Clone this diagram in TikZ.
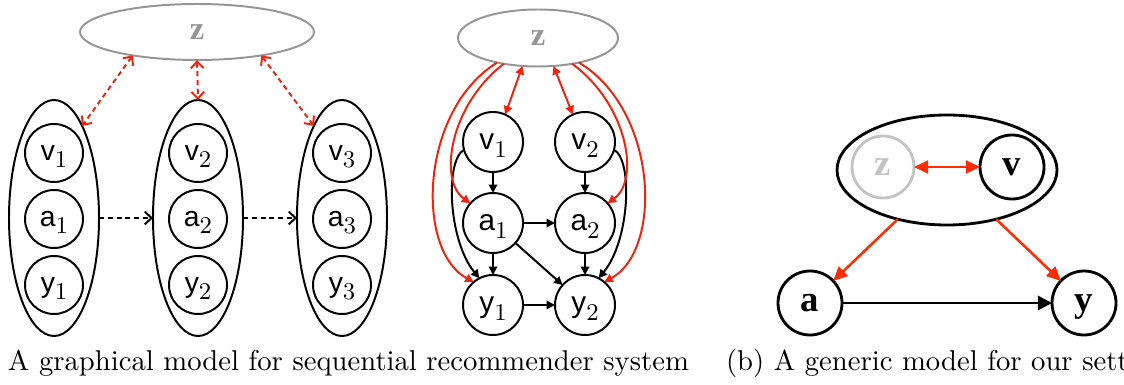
\documentclass[tikz,border=0pt]{standalone}
\usepackage{fontspec}
\usetikzlibrary{shapes.geometric,arrows.meta}
\newfontfamily\helv{Liberation Sans}
\newfontfamily\tms{Liberation Serif}
\definecolor{myred}{RGB}{240,35,15}
\definecolor{myredB}{RGB}{255,45,5}
\definecolor{zgray}{RGB}{150,150,150}
\definecolor{lgray}{RGB}{195,195,195}
\newdimen\pxu \pxu=0.354pt
\newcommand\lbl[4]{{\fontsize{#3}{#3}\helv #1}\raisebox{-2.7pt}{\fontsize{#4}{#4}\selectfont #2}}
\begin{document}
\begin{tikzpicture}[x=0.354pt,y=-0.354pt,
  every node/.style={inner sep=0pt,outer sep=0pt},
  zell/.style={ellipse,draw=zgray,line width=0.7pt,text=zgray,font=\tms\bfseries\fontsize{11.5}{12}\selectfont,text height=5.2pt,text depth=0pt},
  tallell/.style={ellipse,draw,line width=0.7pt,minimum width=90\pxu,minimum height=236\pxu},
  anode/.style={circle,draw,line width=0.7pt,minimum size=58\pxu,text height=5.2pt,text depth=0pt},
  bnode/.style={circle,draw,line width=0.7pt,minimum size=60\pxu,text height=5.4pt,text depth=0pt},
  cnode/.style={circle,draw,line width=1pt,minimum size=64\pxu,font=\tms\bfseries\fontsize{13}{13}\selectfont,text height=5.9pt,text depth=0pt},
  rdash/.style={draw=myred,line width=0.7pt,dash pattern=on 1.8pt off 1.3pt,{Straight Barb[length=2.4pt,width=4.5pt]}-{Straight Barb[length=2.4pt,width=4.5pt]}},
  bdash/.style={draw=black,line width=0.7pt,dash pattern=on 1.8pt off 1.3pt,-{Straight Barb[length=2.4pt,width=4.5pt]}},
  barr/.style={draw=black,line width=0.7pt,-{Triangle[length=3pt,width=3pt]}},
  rarr/.style={draw=myred,line width=0.7pt,-{Triangle[length=3pt,width=3pt]}},
  rarrd/.style={draw=myred,line width=0.7pt,{Triangle[length=3pt,width=3pt]}-{Triangle[length=3pt,width=3pt]}},
  rthick/.style={draw=myredB,line width=0.9pt,-{Triangle[length=5pt,width=4.6pt]}},
  rthickd/.style={draw=myredB,line width=0.9pt,{Triangle[length=5pt,width=4.6pt]}-{Triangle[length=5pt,width=4.6pt]}},
  bthick/.style={draw=black,line width=1pt,-{Triangle[length=5pt,width=5pt]}},
  capt/.style={anchor=base west,font=\fontsize{10.15}{12}\selectfont}
]
\useasboundingbox (0,0) rectangle (1124,385);
\clip (0,0) rectangle (1124,385);

% ---------- panel (a) ----------
\node[zell,minimum width=234\pxu,minimum height=56\pxu] (zA) at (197,32) {z};
\node[tallell] (e1) at (54,218) {};
\node[tallell] (e2) at (198,218) {};
\node[tallell] (e3) at (342,218) {};
\node[anode] (av1) at (54,153) {\lbl{v}{1}{10}{8.5}};
\node[anode] (aa1) at (54,219) {\lbl{a}{1}{10}{8.5}};
\node[anode] (ay1) at (54,285) {\lbl{y}{1}{10}{8.5}};
\node[anode] (av2) at (198,153) {\lbl{v}{2}{10}{8.5}};
\node[anode] (aa2) at (198,219) {\lbl{a}{2}{10}{8.5}};
\node[anode] (ay2) at (198,285) {\lbl{y}{2}{10}{8.5}};
\node[anode] (av3) at (342,153) {\lbl{v}{3}{10}{8.5}};
\node[anode] (aa3) at (342,219) {\lbl{a}{3}{10}{8.5}};
\node[anode] (ay3) at (342,285) {\lbl{y}{3}{10}{8.5}};
\draw[rdash] (zA.200) -- (e1.73);
\draw[rdash] (zA.south) -- (e2.north);
\draw[rdash] (zA.340) -- (e3.107);
\draw[bdash] (e1.east) -- (e2.west);
\draw[bdash] (e2.east) -- (e3.west);

% ---------- middle panel ----------
\node[zell,minimum width=160\pxu,minimum height=57\pxu] (zB) at (538,38) {z};
\node[bnode] (v1) at (493,142) {\lbl{v}{1}{10.5}{8.5}};
\node[bnode] (v2) at (585,142) {\lbl{v}{2}{10.5}{8.5}};
\node[bnode] (a1) at (493,223) {\lbl{a}{1}{10.5}{8.5}};
\node[bnode] (a2) at (585,223) {\lbl{a}{2}{10.5}{8.5}};
\node[bnode] (y1) at (493,305) {\lbl{y}{1}{10.5}{8.5}};
\node[bnode] (y2) at (585,305) {\lbl{y}{2}{10.5}{8.5}};
\draw[barr] (v1) -- (a1);
\draw[barr] (v2) -- (a2);
\draw[barr] (a1) -- (a2);
\draw[barr] (a1) -- (y1);
\draw[barr] (a2) -- (y2);
\draw[barr] (y1) -- (y2);
\draw[barr] (a1) -- (y2);
\draw[barr] (v1.195) .. controls (445,160) and (448,240) .. (y1.117);
\draw[barr] (v2.-15) .. controls (633,160) and (630,240) .. (y2.63);
\draw[rarrd] (zB.241) -- (v1.66);
\draw[rarrd] (zB.299) -- (v2.114);
\draw[rarr] (zB.217) .. controls (450,105) and (438,180) .. (a1.139);
\draw[rarr] (zB.211) .. controls (420,110) and (415,250) .. (y1.130);
\draw[rarr] (zB.323) .. controls (628,105) and (640,180) .. (a2.41);
\draw[rarr] (zB.329) .. controls (658,110) and (663,250) .. (y2.50);

% ---------- panel (b) ----------
\node[ellipse,draw,line width=1pt,minimum width=220\pxu,minimum height=110\pxu] (big) at (947,170) {};
\node[cnode,draw=lgray,text=lgray,minimum size=62\pxu] (zC) at (883,167) {z};
\node[cnode] (vC) at (1012,167) {v};
\node[cnode] (aC) at (810,303) {a};
\node[cnode] (yC) at (1084,303) {y};
\draw[rthickd] (zC) -- (vC);
\draw[rthick] (big.225) -- (aC);
\draw[rthick] (big.315) -- (yC);
\draw[bthick] (aC) -- (yC);

% ---------- captions ----------
\node[capt] (capA) at (8,370) {A graphical model for sequential recommender system};
\node[capt] (capB) at (726,370) {(b) A generic model for our sett};
\end{tikzpicture}
\end{document}
